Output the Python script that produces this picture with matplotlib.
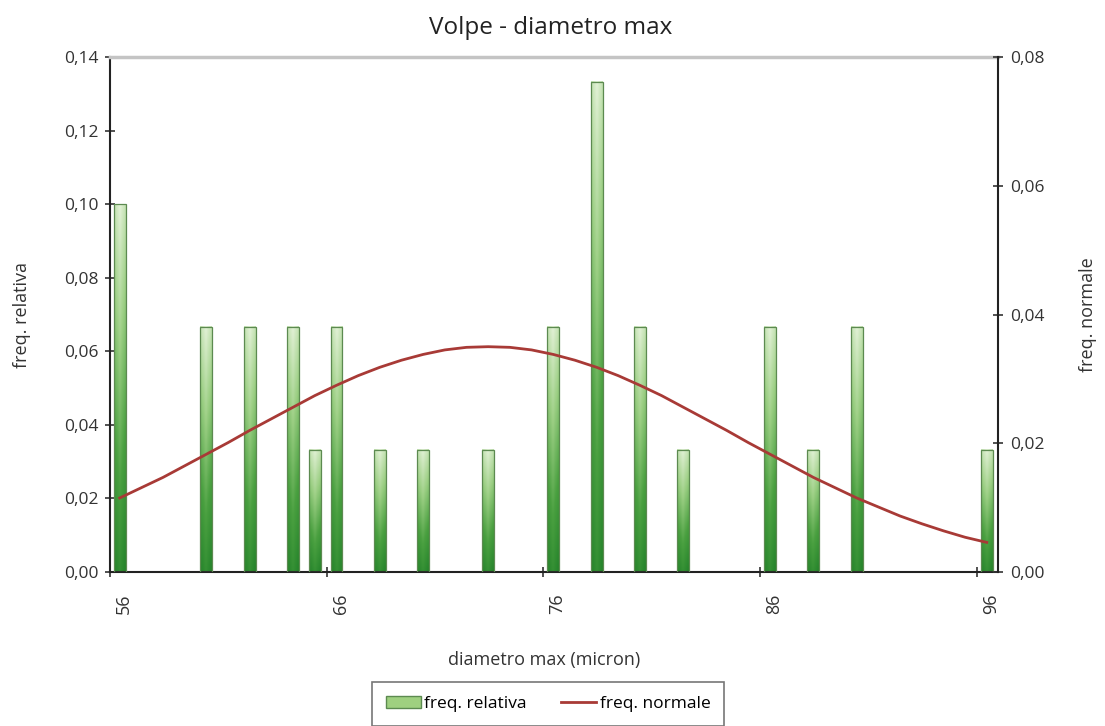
import numpy as np
import matplotlib
matplotlib.use("Agg")
import matplotlib.pyplot as plt
from matplotlib.patches import Patch
from matplotlib.lines import Line2D
from matplotlib.colors import LinearSegmentedColormap
from matplotlib.ticker import FuncFormatter
import matplotlib.transforms as mtransforms

plt.rcParams['font.family'] = ['Open Sans', 'DejaVu Sans']

# diameters (micron) and relative frequency of each
diam = [56, 60, 62, 64, 65, 66, 68, 70, 73, 76, 78, 80, 82, 86, 88, 90, 96]
freq_rel = [0.1, 0.0667, 0.0667, 0.0667, 0.0333, 0.0667, 0.0333, 0.0333, 0.0333,
            0.0667, 0.1333, 0.0667, 0.0333, 0.0667, 0.0333, 0.0667, 0.0333]

# normal curve (right axis)
curve_x = list(range(56, 97))
curve_y = [0.0115, 0.0131, 0.0147, 0.0165, 0.0183, 0.0201, 0.0220, 0.0238, 0.0256, 0.0274,
           0.0290, 0.0305, 0.0318, 0.0329, 0.0338, 0.0345, 0.0349, 0.0350, 0.0349, 0.0345,
           0.0338, 0.0329, 0.0318, 0.0305, 0.0290, 0.0274, 0.0256, 0.0238, 0.0220, 0.0201,
           0.0183, 0.0165, 0.0147, 0.0131, 0.0115, 0.0101, 0.0087, 0.0075, 0.0064, 0.0054,
           0.0046]

xticks = [56, 66, 76, 86, 96]
left_ticks = [0, 0.02, 0.04, 0.06, 0.08, 0.10, 0.12, 0.14]
right_ticks = [0, 0.02, 0.04, 0.06, 0.08]

off = 0.45
bw = 0.55
txt = '#333333'

fig = plt.figure(figsize=(11.05, 7.26), dpi=100)
ax = fig.add_axes([0.0995, 0.2121, 0.8037, 0.7094])

cmap = LinearSegmentedColormap.from_list('g', ['#24832a', '#4aa040', '#9ccf84', '#e2f1d6'])
gx = np.linspace(-1, 1, 20)
gy = np.linspace(0, 1, 100)
GX, GY = np.meshgrid(gx, gy)
grad = np.clip(GY * 0.85 + 0.15 * (1 - np.abs(GX)), 0, 1)

for d, h in zip(diam, freq_rel):
    ax.imshow(grad, extent=(d + off - bw / 2, d + off + bw / 2, 0, h), origin='lower',
              aspect='auto', cmap=cmap, vmin=0, vmax=1, zorder=2, interpolation='bilinear')
ax.bar([d + off for d in diam], freq_rel, width=bw, facecolor='none',
       edgecolor='#5c8a50', linewidth=0.9, zorder=3)

ax.set_xlim(56, 96.97)
ax.set_ylim(0, 0.14)
ax.set_xticks(xticks)
ax.set_yticks(left_ticks)
fmt = FuncFormatter(lambda v, p: f"{v:.2f}".replace('.', ','))
ax.yaxis.set_major_formatter(fmt)
ax.tick_params(axis='y', direction='inout', length=7, width=1.2, labelsize=12.5,
               colors=txt, pad=5)
ax.tick_params(axis='x', direction='inout', length=7, width=1.2, labelsize=13,
               colors=txt, pad=12, labelrotation=90)
shift = mtransforms.ScaledTranslation(0.14, 0, fig.dpi_scale_trans)
for lab in ax.get_xticklabels():
    lab.set_transform(lab.get_transform() + shift)

for s in ['left', 'bottom']:
    ax.spines[s].set_color('#222222')
    ax.spines[s].set_linewidth(1.5)
ax.spines['top'].set_color('#c4c4c4')
ax.spines['top'].set_linewidth(2.5)
ax.spines['right'].set_visible(False)

ax2 = ax.twinx()
ax2.plot([c + off for c in curve_x], curve_y, color='#a83a36', linewidth=2, zorder=4)
ax2.set_ylim(0, 0.08)
ax2.set_yticks(right_ticks)
ax2.yaxis.set_major_formatter(fmt)
ax2.tick_params(axis='y', direction='inout', length=7, width=1.2, labelsize=12.5,
                colors=txt, pad=5)
for s in ['left', 'bottom', 'top']:
    ax2.spines[s].set_visible(False)
ax2.spines['right'].set_color('#222222')
ax2.spines['right'].set_linewidth(1.5)

fig.text(0.498, 0.961, 'Volpe - diametro max', ha='center', va='center', fontsize=17.5, color='#222222')
fig.text(0.02, 0.566, 'freq. relativa', rotation=90, ha='center', va='center', fontsize=13, color=txt)
fig.text(0.985, 0.566, 'freq. normale', rotation=90, ha='center', va='center', fontsize=13, color=txt)
fig.text(0.492, 0.091, 'diametro max (micron)', ha='center', va='center', fontsize=13, color=txt)

handles = [Patch(facecolor='#9fd080', edgecolor='#5c8a50'),
           Line2D([0], [0], color='#a83a36', linewidth=2)]
leg = fig.legend(handles, ['freq. relativa', 'freq. normale'], loc='center',
                 bbox_to_anchor=(0.496, 0.03), ncol=2, frameon=True, fancybox=False,
                 fontsize=12.5, handlelength=2.0, columnspacing=2.0, borderpad=0.8,
                 handletextpad=0.2)
leg.get_frame().set_edgecolor('#555555')
leg.get_frame().set_linewidth(1.2)

fig.savefig('out.png', dpi=100)
